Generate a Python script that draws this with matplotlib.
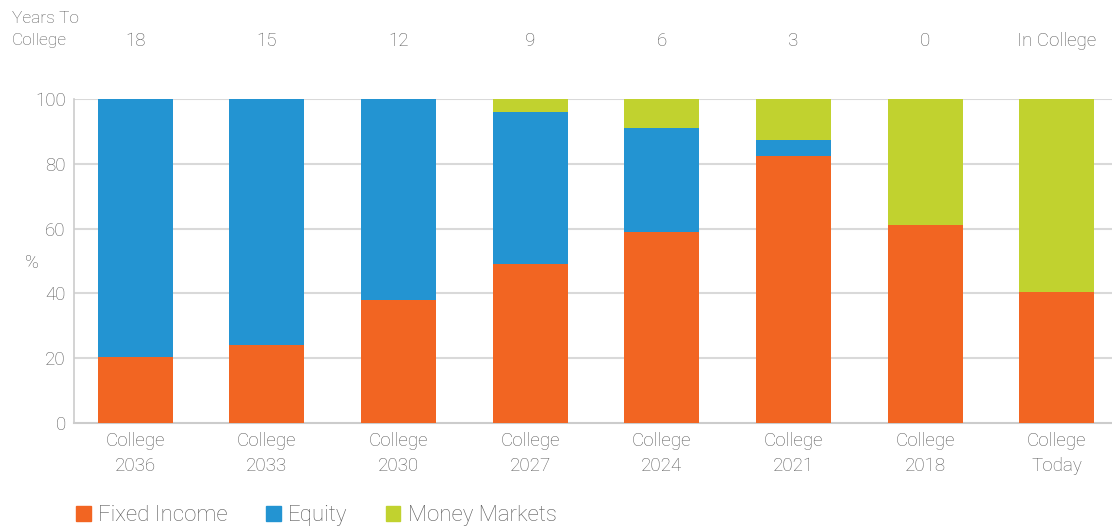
import matplotlib
matplotlib.use("Agg")
import matplotlib.pyplot as plt
from matplotlib.patches import Patch
import numpy as np

categories = ["College\n2036", "College\n2033", "College\n2030", "College\n2027",
              "College\n2024", "College\n2021", "College\n2018", "College\nToday"]
years_to_college = ["18", "15", "12", "9", "6", "3", "0", "In College"]
fixed_income = [20.5, 24, 38, 49, 59, 82.5, 61, 40.5]
equity = [79.5, 76, 62, 47, 32, 5, 0, 0]
money_markets = [0, 0, 0, 4, 9, 12.5, 39, 59.5]
yticks = [0, 20, 40, 60, 80, 100]

c_fixed = "#F26522"
c_equity = "#2394D2"
c_money = "#C1D22F"
txt = "#5a5a5a"

plt.rcParams['font.family'] = ['Roboto', 'DejaVu Sans']
plt.rcParams['font.weight'] = 'light'

fig = plt.figure(figsize=(11.12, 5.27), dpi=100)
ax = fig.add_axes([74/1112, 1-423/527, 1-74/1112, (423-99)/527])

x = np.arange(len(categories))
w = 0.57
fi = np.array(fixed_income)
eq = np.array(equity)
mm = np.array(money_markets)
ax.bar(x, fi, w, color=c_fixed, zorder=3)
ax.bar(x, eq, w, bottom=fi, color=c_equity, zorder=3)
ax.bar(x, mm, w, bottom=fi+eq, color=c_money, zorder=3)

ax.set_xlim(-0.464, 7.42)
ax.set_ylim(0, 100)
ax.set_yticks(yticks)
ax.set_yticklabels([str(v) for v in yticks], fontsize=13.5, color=txt)
ax.set_xticks(x)
ax.set_xticklabels(categories, fontsize=13.5, color=txt, linespacing=1.5)
ax.tick_params(axis='both', length=0)
ax.tick_params(axis='y', pad=6)
ax.tick_params(axis='x', pad=6.5)
for v in yticks[1:]:
    ax.axhline(v, color="#d9d9d9", lw=1.5, zorder=1)
for s in ["top", "right"]:
    ax.spines[s].set_visible(False)
ax.spines["left"].set_color("#cccccc")
ax.spines["bottom"].set_color("#cccccc")
ax.spines["left"].set_linewidth(1.2)
ax.spines["bottom"].set_linewidth(1.5)

ax.text(-0.783, 49.5, "%", transform=ax.transData, fontsize=13.5, color=txt,
        ha="center", va="center")

# Top "years to college" row
fig.text(12/1112, 1-29.5/527, "Years To\nCollege", fontsize=12.5, color=txt,
         ha="left", va="center", linespacing=1.65)
for xi, lab in zip(x, years_to_college):
    ax.text(xi, 1.178, lab, transform=ax.get_xaxis_transform(), fontsize=13.5,
            color=txt, ha="center", va="center")

handles = [Patch(color=c_fixed), Patch(color=c_equity), Patch(color=c_money)]
leg = fig.legend(handles, ["Fixed Income", "Equity", "Money Markets"],
                 loc="lower left", bbox_to_anchor=(56/1112, -0.037), ncol=3,
                 frameon=False, fontsize=16, handlelength=0.66, handleheight=0.66,
                 handletextpad=0.33, columnspacing=1.72)
for t in leg.get_texts():
    t.set_color(txt)

fig.savefig("out.png", dpi=100)
